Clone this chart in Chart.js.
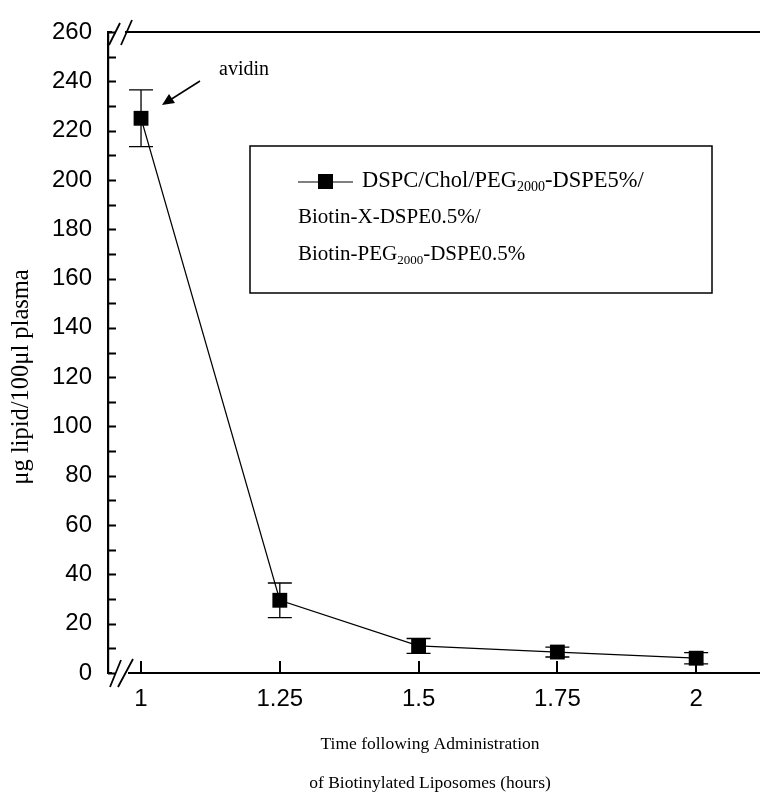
<!DOCTYPE html>
<html>
<head>
<meta charset="utf-8">
<script src="https://cdn.jsdelivr.net/npm/chart.js@4/dist/chart.umd.min.js"></script>
<style>
  html, body { margin: 0; padding: 0; background: #fff; }
  #wrap { width: 760px; height: 799px; }
</style>
</head>
<body>
<div id="wrap"><canvas id="grafico" width="760" height="799"></canvas></div>
<script>
// data
const hours = [1, 1.25, 1.5, 1.75, 2];
const lipid = [225, 29.5, 11, 8.5, 6];
const lipidErr = [11.5, 7, 3, 2, 2.3];
const xTicks = [1, 1.25, 1.5, 1.75, 2];
const xTickLabels = ['1', '1.25', '1.5', '1.75', '2'];

const SERIF = '"Liberation Serif", "Times New Roman", serif';
const SANS = '"Liberation Sans", Arial, sans-serif';

// text with a subscript part: [[text, sub?], ...]
function drawRich(ctx, parts, x, y, size) {
  let cx = x;
  parts.forEach(p => {
    const sub = p[1];
    ctx.font = (sub ? Math.round(size * 0.62) : size) + 'px ' + SERIF;
    ctx.fillText(p[0], cx, sub ? y + size * 0.3 : y);
    cx += ctx.measureText(p[0]).width;
  });
}

const extras = {
  id: 'extras',
  beforeDatasetsDraw(chart) {
    const ctx = chart.ctx;
    const xs = chart.scales.x, ys = chart.scales.y;
    ctx.save();
    ctx.strokeStyle = '#000';
    ctx.lineWidth = 1.3;
    // error bars
    hours.forEach((h, i) => {
      const px = xs.getPixelForValue(h);
      const top = ys.getPixelForValue(lipid[i] + lipidErr[i]);
      const bot = ys.getPixelForValue(lipid[i] - lipidErr[i]);
      ctx.beginPath();
      ctx.moveTo(px, top); ctx.lineTo(px, bot);
      ctx.moveTo(px - 12, top); ctx.lineTo(px + 12, top);
      ctx.moveTo(px - 12, bot); ctx.lineTo(px + 12, bot);
      ctx.stroke();
    });
    ctx.restore();
  },
  afterDraw(chart) {
    const ctx = chart.ctx;
    const a = chart.chartArea;
    const xs = chart.scales.x, ys = chart.scales.y;
    ctx.save();
    ctx.strokeStyle = '#000';
    ctx.fillStyle = '#000';

    // inward ticks
    ctx.lineWidth = 2;
    ctx.beginPath();
    for (let v = 0; v <= 260; v += 10) {
      const py = Math.round(ys.getPixelForValue(v)) + 0.5;
      ctx.moveTo(a.left, py); ctx.lineTo(a.left + 8, py);
    }
    xTicks.forEach(t => {
      const px = Math.round(xs.getPixelForValue(t));
      ctx.moveTo(px, a.bottom); ctx.lineTo(px, a.bottom - 12);
    });
    ctx.stroke();

    // top and bottom axis lines with breaks
    ctx.lineWidth = 2.2;
    ctx.beginPath();
    ctx.moveTo(a.left - 1, a.top); ctx.lineTo(a.left + 4, a.top);
    ctx.moveTo(125, a.top); ctx.lineTo(a.right, a.top);
    ctx.moveTo(a.left - 1, a.bottom); ctx.lineTo(a.left + 4, a.bottom);
    ctx.moveTo(128, a.bottom); ctx.lineTo(a.right, a.bottom);
    ctx.stroke();
    ctx.lineWidth = 1.8;
    ctx.beginPath();
    ctx.moveTo(109, a.top + 13); ctx.lineTo(120, a.top - 9);
    ctx.moveTo(121, a.top + 13); ctx.lineTo(132, a.top - 12);
    ctx.moveTo(110, a.bottom + 14); ctx.lineTo(121, a.bottom - 13);
    ctx.moveTo(118, a.bottom + 14); ctx.lineTo(133, a.bottom - 14);
    ctx.stroke();

    // annotation arrow
    ctx.lineWidth = 1.5;
    ctx.beginPath();
    ctx.moveTo(200, 81); ctx.lineTo(170, 100);
    ctx.stroke();
    ctx.beginPath();
    ctx.moveTo(162, 105); ctx.lineTo(169, 94); ctx.lineTo(175, 103);
    ctx.closePath(); ctx.fill();
    ctx.font = '20px ' + SERIF;
    ctx.textBaseline = 'middle';
    ctx.textAlign = 'left';
    ctx.fillText('avidin', 219, 70);

    // legend box
    ctx.lineWidth = 1.5;
    ctx.strokeRect(250, 146, 462, 147);
    ctx.lineWidth = 1;
    ctx.beginPath();
    ctx.moveTo(298, 182); ctx.lineTo(353, 182);
    ctx.stroke();
    ctx.fillRect(318, 174, 15, 15);
    drawRich(ctx, [['DSPC/Chol/PEG'], ['2000', true], ['-DSPE5%/']], 362, 181, 22.5);
    drawRich(ctx, [['Biotin-X-DSPE0.5%/']], 298, 217, 21);
    drawRich(ctx, [['Biotin-PEG'], ['2000', true], ['-DSPE0.5%']], 298, 254, 21);

    // axis titles
    ctx.font = '17.5px ' + SERIF;
    ctx.textAlign = 'center';
    ctx.fillText('Time following Administration', 430, 744);
    ctx.fillText('of Biotinylated Liposomes (hours)', 430, 783);
    ctx.translate(22, 377);
    ctx.rotate(-Math.PI / 2);
    ctx.font = '24.5px ' + SERIF;
    ctx.fillText('\u03bcg lipid/100\u03bcl plasma', 0, 0);
    ctx.restore();
  }
};

new Chart(document.getElementById('grafico'), {
  type: 'line',
  data: {
    datasets: [{
      label: 'DSPC/Chol/PEG2000-DSPE5%/Biotin-X-DSPE0.5%/Biotin-PEG2000-DSPE0.5%',
      data: hours.map((h, i) => ({ x: h, y: lipid[i] })),
      borderColor: '#000',
      borderWidth: 1.2,
      pointStyle: 'rect',
      pointRadius: 10.5,
      pointHoverRadius: 10.5,
      pointBackgroundColor: '#000',
      pointBorderColor: '#000',
      pointBorderWidth: 0,
      tension: 0
    }]
  },
  options: {
    responsive: false,
    animation: false,
    events: [],
    layout: { autoPadding: false, padding: { top: 32, right: 0, left: 0, bottom: 0 } },
    plugins: {
      legend: { display: false },
      tooltip: { enabled: false }
    },
    scales: {
      x: {
        type: 'linear',
        min: 0.9405,
        max: 2.115,
        afterBuildTicks: s => { s.ticks = xTicks.map(v => ({ value: v })); },
        afterFit: s => { s.height = 126; s.paddingLeft = 0; s.paddingRight = 0; },
        grid: { display: false, drawTicks: false },
        border: { display: false },
        ticks: {
          padding: 12,
          color: '#000',
          font: { family: SANS, size: 24 },
          callback: (v) => xTickLabels[xTicks.indexOf(v)] ?? ''
        }
      },
      y: {
        min: 0,
        max: 260,
        afterFit: s => { s.width = 108; s.paddingTop = 0; s.paddingBottom = 0; },
        grid: { display: false, drawTicks: false },
        border: { display: true, color: '#000', width: 2.2 },
        ticks: {
          stepSize: 20,
          padding: 16,
          color: '#000',
          font: { family: SANS, size: 24 }
        }
      }
    }
  },
  plugins: [extras]
});
</script>
</body>
</html>
